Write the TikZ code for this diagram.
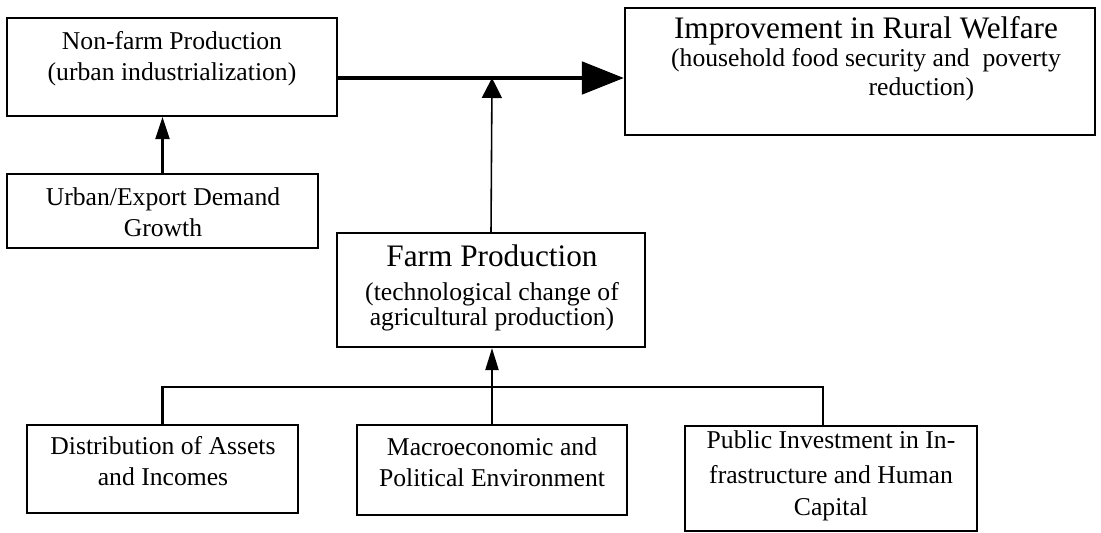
\documentclass[tikz,border=0pt]{standalone}
\usepackage{fontspec}
\setmainfont{Liberation Serif}
\usetikzlibrary{arrows.meta,fit}

\begin{document}
\begin{tikzpicture}[x=0.02cm, y=-0.02cm]
    \tikzstyle{box}=[draw, line width=1.2pt, inner sep=0pt]
    \tikzstyle{txt}=[align=center, inner sep=0pt, font=\fontsize{14.6}{17.6}\selectfont]
    \tikzstyle{link}=[line width=1.2pt]
    \useasboundingbox (0,0) rectangle (1101,532);
    % boxes
    \node [box, fit={(7,18) (337,116)}] (nonfarm) {};
    \node [box, fit={(625,8) (1095,135)}] (welfare) {};
    \node [box, fit={(7,174) (318,248)}] (urban) {};
    \node [box, fit={(337,233) (645,347)}] (farm) {};
    \node [box, fit={(27,425) (298,513)}] (assets) {};
    \node [box, fit={(357,425) (627,515)}] (macro) {};
    \node [box, fit={(685,426) (977,531)}] (public) {};
    % texts
    \node [txt] (nonfarmtxt) at (172,59) {Non-farm Production\\(urban industrialization)};
    \node [txt] (welfaretxt) at (866,59) {{\fontsize{17.8}{20}\selectfont Improvement in Rural Welfare}\\[-1.8pt](household food security and\ \ poverty\\[-1pt]\hspace*{63pt}reduction)};
    \node [txt] (urbantxt) at (163,212) {Urban/Export Demand\\Growth};
    \node [txt] (farmtxt) at (492,288) {{\fontsize{17.8}{20}\selectfont Farm Production}\\[1.5pt](technological change of\\[-3.4pt]agricultural production)};
    \node [txt] (assetstxt) at (163,461) {Distribution of Assets\\and Incomes};
    \node [txt] (macrotxt) at (492,462) {Macroeconomic and\\Political Environment};
    \node [txt] (publictxt) at (831,476) {Public Investment in In-\\[2.5pt]frastructure and Human\\[0.5pt]Capital};
    % arrows
    \coordinate (join) at (492,78);
    \coordinate (fork) at (492,387);
    \draw [line width=2.8pt, -{Triangle[length=0.84cm,width=0.64cm]}] (nonfarm.east |- join) -- (welfare.west |- join);
    \draw [line width=0.9pt, -{Triangle[length=0.4cm,width=0.4cm]}] (farm.north) -- (join);
    \draw [link, -{Triangle[length=0.44cm,width=0.28cm]}] (urban.north) -- (urban.north |- nonfarm.south);
    \draw [link, -{Triangle[length=0.44cm,width=0.26cm]}] (macro.north) -- (macro.north |- farm.south);
    \draw [link] (assets.north) |- (fork) -| ([xshift=-0.16cm]public.north);
\end{tikzpicture}
\end{document}
